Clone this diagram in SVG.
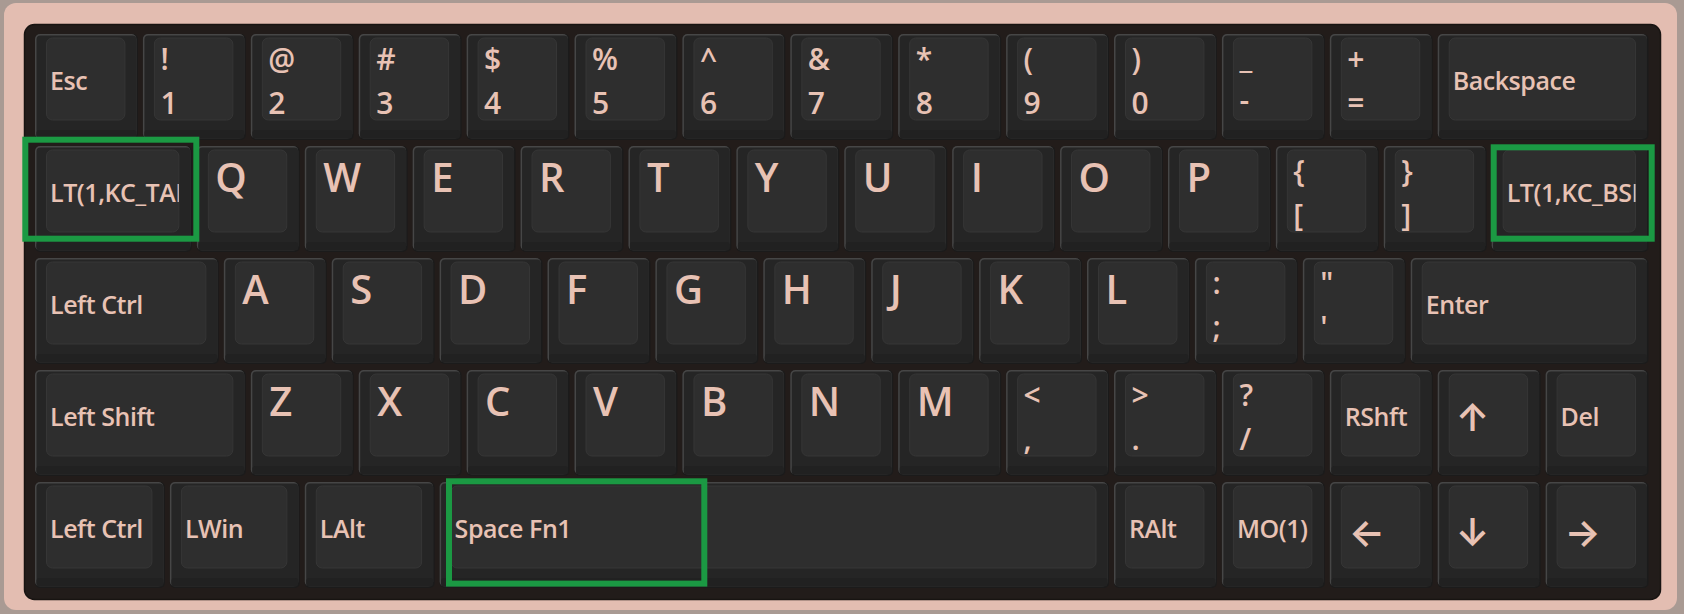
<svg xmlns="http://www.w3.org/2000/svg" xmlns:xlink="http://www.w3.org/1999/xlink" width="1684" height="614" viewBox="0 0 1684 614">
<style>
.ko{fill:#1b1b1b}
.kh{fill:#464646}
.kb{fill:#252525}
.kl{fill:#212121}
.kt{fill:#2e2e2e;stroke:#363636;stroke-width:1}
text{fill:#e8c2b4;font-family:"Open Sans","Noto Sans",sans-serif;font-weight:600}
.lm{font-size:25px;letter-spacing:-0.45px}
.l2{font-size:30px}
.lb{font-size:40px}
.ar{font-family:Inter,Lato,"DejaVu Sans",sans-serif;font-size:38px;font-weight:600;dominant-baseline:central}
.hl{fill:none;stroke:#1b9943;stroke-width:6}
</style>
<defs>
<g id="c100"><rect class="ko" width="102.9" height="106" rx="5"/><rect class="kh" width="101.4" height="104.5" rx="5"/><rect class="kb" x="1.5" y="1.5" width="99.9" height="103" rx="4"/><rect class="kl" x="1.5" y="96" width="99.9" height="8.5" rx="3"/><rect class="kt" x="11.5" y="4" width="78.4" height="82" rx="6"/></g>
<g id="c125"><rect class="ko" width="129.9" height="106" rx="5"/><rect class="kh" width="128.4" height="104.5" rx="5"/><rect class="kb" x="1.5" y="1.5" width="126.9" height="103" rx="4"/><rect class="kl" x="1.5" y="96" width="126.9" height="8.5" rx="3"/><rect class="kt" x="11.5" y="4" width="105.4" height="82" rx="6"/></g>
<g id="c150"><rect class="ko" width="156.85" height="106" rx="5"/><rect class="kh" width="155.35" height="104.5" rx="5"/><rect class="kb" x="1.5" y="1.5" width="153.85" height="103" rx="4"/><rect class="kl" x="1.5" y="96" width="153.85" height="8.5" rx="3"/><rect class="kt" x="11.5" y="4" width="132.35" height="82" rx="6"/></g>
<g id="c175"><rect class="ko" width="183.8" height="106" rx="5"/><rect class="kh" width="182.3" height="104.5" rx="5"/><rect class="kb" x="1.5" y="1.5" width="180.8" height="103" rx="4"/><rect class="kl" x="1.5" y="96" width="180.8" height="8.5" rx="3"/><rect class="kt" x="11.5" y="4" width="159.3" height="82" rx="6"/></g>
<g id="c200"><rect class="ko" width="210.8" height="106" rx="5"/><rect class="kh" width="209.3" height="104.5" rx="5"/><rect class="kb" x="1.5" y="1.5" width="207.8" height="103" rx="4"/><rect class="kl" x="1.5" y="96" width="207.8" height="8.5" rx="3"/><rect class="kt" x="11.5" y="4" width="186.3" height="82" rx="6"/></g>
<g id="c225"><rect class="ko" width="237.8" height="106" rx="5"/><rect class="kh" width="236.3" height="104.5" rx="5"/><rect class="kb" x="1.5" y="1.5" width="234.8" height="103" rx="4"/><rect class="kl" x="1.5" y="96" width="234.8" height="8.5" rx="3"/><rect class="kt" x="11.5" y="4" width="213.3" height="82" rx="6"/></g>
<g id="c625"><rect class="ko" width="669.4" height="106" rx="5"/><rect class="kh" width="667.9" height="104.5" rx="5"/><rect class="kb" x="1.5" y="1.5" width="666.4" height="103" rx="4"/><rect class="kl" x="1.5" y="96" width="666.4" height="8.5" rx="3"/><rect class="kt" x="11.5" y="4" width="644.9" height="82" rx="6"/></g>
<clipPath id="clip150"><rect x="11.5" y="4" width="132.35" height="82" rx="6"/></clipPath>
</defs>
<g id="case">
<rect width="1684" height="614" fill="#a99a93"/>
<rect x="4" y="3" width="1673" height="607" rx="12" fill="#e3bdb1"/>
<rect x="24.5" y="24.5" width="1636" height="575" rx="10" fill="#221c1a" stroke="#181412" stroke-width="1.5"/>
</g>
<g id="row0">
<g id="k-esc" transform="translate(35,34)"><use href="#c100"/><text class="lm" x="15" y="56">Esc</text></g>
<g id="k-1" transform="translate(142.9,34)"><use href="#c100"/><text class="l2" x="17.5" y="36">!</text><text class="l2" x="17.5" y="80">1</text></g>
<g id="k-2" transform="translate(250.8,34)"><use href="#c100"/><text class="l2" x="17.5" y="36">@</text><text class="l2" x="17.5" y="80">2</text></g>
<g id="k-3" transform="translate(358.7,34)"><use href="#c100"/><text class="l2" x="17.5" y="36">#</text><text class="l2" x="17.5" y="80">3</text></g>
<g id="k-4" transform="translate(466.6,34)"><use href="#c100"/><text class="l2" x="17.5" y="36">$</text><text class="l2" x="17.5" y="80">4</text></g>
<g id="k-5" transform="translate(574.5,34)"><use href="#c100"/><text class="l2" x="17.5" y="36">%</text><text class="l2" x="17.5" y="80">5</text></g>
<g id="k-6" transform="translate(682.4,34)"><use href="#c100"/><text class="l2" x="17.5" y="36">^</text><text class="l2" x="17.5" y="80">6</text></g>
<g id="k-7" transform="translate(790.3,34)"><use href="#c100"/><text class="l2" x="17.5" y="36">&amp;</text><text class="l2" x="17.5" y="80">7</text></g>
<g id="k-8" transform="translate(898.2,34)"><use href="#c100"/><text class="l2" x="17.5" y="36">*</text><text class="l2" x="17.5" y="80">8</text></g>
<g id="k-9" transform="translate(1006.1,34)"><use href="#c100"/><text class="l2" x="17.5" y="36">(</text><text class="l2" x="17.5" y="80">9</text></g>
<g id="k-0" transform="translate(1114,34)"><use href="#c100"/><text class="l2" x="17.5" y="36">)</text><text class="l2" x="17.5" y="80">0</text></g>
<g id="k-minus" transform="translate(1221.9,34)"><use href="#c100"/><text class="l2" x="17.5" y="34">_</text><text class="l2" x="17.5" y="77">-</text></g>
<g id="k-equal" transform="translate(1329.8,34)"><use href="#c100"/><text class="l2" x="17.5" y="36">+</text><text class="l2" x="17.5" y="80">=</text></g>
<g id="k-bspace" transform="translate(1437.7,34)"><use href="#c200"/><text class="lm" x="15" y="56">Backspace</text></g>
</g>
<g id="row1">
<g id="k-tab" transform="translate(35,146)"><use href="#c150"/><text class="lm" x="15" y="56" clip-path="url(#clip150)">LT(1,KC_TAB)</text></g>
<g id="k-q" transform="translate(196.85,146)"><use href="#c100"/><text class="lb" x="18.5" y="46">Q</text></g>
<g id="k-w" transform="translate(304.75,146)"><use href="#c100"/><text class="lb" x="18.5" y="46">W</text></g>
<g id="k-e" transform="translate(412.65,146)"><use href="#c100"/><text class="lb" x="18.5" y="46">E</text></g>
<g id="k-r" transform="translate(520.55,146)"><use href="#c100"/><text class="lb" x="18.5" y="46">R</text></g>
<g id="k-t" transform="translate(628.45,146)"><use href="#c100"/><text class="lb" x="18.5" y="46">T</text></g>
<g id="k-y" transform="translate(736.35,146)"><use href="#c100"/><text class="lb" x="18.5" y="46">Y</text></g>
<g id="k-u" transform="translate(844.25,146)"><use href="#c100"/><text class="lb" x="18.5" y="46">U</text></g>
<g id="k-i" transform="translate(952.15,146)"><use href="#c100"/><text class="lb" x="18.5" y="46">I</text></g>
<g id="k-o" transform="translate(1060.05,146)"><use href="#c100"/><text class="lb" x="18.5" y="46">O</text></g>
<g id="k-p" transform="translate(1167.95,146)"><use href="#c100"/><text class="lb" x="18.5" y="46">P</text></g>
<g id="k-lbrc" transform="translate(1275.85,146)"><use href="#c100"/><text class="l2" x="17.5" y="36">{</text><text class="l2" x="17.5" y="80">[</text></g>
<g id="k-rbrc" transform="translate(1383.75,146)"><use href="#c100"/><text class="l2" x="17.5" y="36">}</text><text class="l2" x="17.5" y="80">]</text></g>
<g id="k-bsl" transform="translate(1491.65,146)"><use href="#c150"/><text class="lm" x="15" y="56" clip-path="url(#clip150)">LT(1,KC_BSPC)</text></g>
</g>
<g id="row2">
<g id="k-lctrl" transform="translate(35,258)"><use href="#c175"/><text class="lm" x="15" y="56">Left Ctrl</text></g>
<g id="k-a" transform="translate(223.8,258)"><use href="#c100"/><text class="lb" x="18.5" y="46">A</text></g>
<g id="k-s" transform="translate(331.7,258)"><use href="#c100"/><text class="lb" x="18.5" y="46">S</text></g>
<g id="k-d" transform="translate(439.6,258)"><use href="#c100"/><text class="lb" x="18.5" y="46">D</text></g>
<g id="k-f" transform="translate(547.5,258)"><use href="#c100"/><text class="lb" x="18.5" y="46">F</text></g>
<g id="k-g" transform="translate(655.4,258)"><use href="#c100"/><text class="lb" x="18.5" y="46">G</text></g>
<g id="k-h" transform="translate(763.3,258)"><use href="#c100"/><text class="lb" x="18.5" y="46">H</text></g>
<g id="k-j" transform="translate(871.2,258)"><use href="#c100"/><text class="lb" x="18.5" y="46">J</text></g>
<g id="k-k" transform="translate(979.1,258)"><use href="#c100"/><text class="lb" x="18.5" y="46">K</text></g>
<g id="k-l" transform="translate(1087,258)"><use href="#c100"/><text class="lb" x="18.5" y="46">L</text></g>
<g id="k-scln" transform="translate(1194.9,258)"><use href="#c100"/><text class="l2" x="17.5" y="36">:</text><text class="l2" x="17.5" y="80">;</text></g>
<g id="k-quot" transform="translate(1302.8,258)"><use href="#c100"/><text class="l2" x="17.5" y="36">"</text><text class="l2" x="17.5" y="80">'</text></g>
<g id="k-enter" transform="translate(1410.7,258)"><use href="#c225"/><text class="lm" x="15" y="56">Enter</text></g>
</g>
<g id="row3">
<g id="k-lshift" transform="translate(35,370)"><use href="#c200"/><text class="lm" x="15" y="56">Left Shift</text></g>
<g id="k-z" transform="translate(250.8,370)"><use href="#c100"/><text class="lb" x="18.5" y="46">Z</text></g>
<g id="k-x" transform="translate(358.7,370)"><use href="#c100"/><text class="lb" x="18.5" y="46">X</text></g>
<g id="k-c" transform="translate(466.6,370)"><use href="#c100"/><text class="lb" x="18.5" y="46">C</text></g>
<g id="k-v" transform="translate(574.5,370)"><use href="#c100"/><text class="lb" x="18.5" y="46">V</text></g>
<g id="k-b" transform="translate(682.4,370)"><use href="#c100"/><text class="lb" x="18.5" y="46">B</text></g>
<g id="k-n" transform="translate(790.3,370)"><use href="#c100"/><text class="lb" x="18.5" y="46">N</text></g>
<g id="k-m" transform="translate(898.2,370)"><use href="#c100"/><text class="lb" x="18.5" y="46">M</text></g>
<g id="k-comm" transform="translate(1006.1,370)"><use href="#c100"/><text class="l2" x="17.5" y="36">&lt;</text><text class="l2" x="17.5" y="80">,</text></g>
<g id="k-dot" transform="translate(1114,370)"><use href="#c100"/><text class="l2" x="17.5" y="36">&gt;</text><text class="l2" x="17.5" y="80">.</text></g>
<g id="k-slsh" transform="translate(1221.9,370)"><use href="#c100"/><text class="l2" x="17.5" y="36">?</text><text class="l2" x="17.5" y="80">/</text></g>
<g id="k-rshift" transform="translate(1329.8,370)"><use href="#c100"/><text class="lm" x="15" y="56">RShft</text></g>
<g id="k-up" transform="translate(1437.7,370)"><use href="#c100"/><text class="ar" x="18" y="47">↑</text></g>
<g id="k-del" transform="translate(1545.6,370)"><use href="#c100"/><text class="lm" x="15" y="56">Del</text></g>
</g>
<g id="row4">
<g id="k-lctrl2" transform="translate(35,482)"><use href="#c125"/><text class="lm" x="15" y="56">Left Ctrl</text></g>
<g id="k-lwin" transform="translate(169.9,482)"><use href="#c125"/><text class="lm" x="15" y="56">LWin</text></g>
<g id="k-lalt" transform="translate(304.75,482)"><use href="#c125"/><text class="lm" x="15" y="56">LAlt</text></g>
<g id="k-space" transform="translate(439.6,482)"><use href="#c625"/><text class="lm" x="15" y="56">Space Fn1</text></g>
<g id="k-ralt" transform="translate(1114,482)"><use href="#c100"/><text class="lm" x="15" y="56">RAlt</text></g>
<g id="k-mo1" transform="translate(1221.9,482)"><use href="#c100"/><text class="lm" x="15" y="56">MO(1)</text></g>
<g id="k-left" transform="translate(1329.8,482)"><use href="#c100"/><text class="ar" x="19" y="50">←</text></g>
<g id="k-down" transform="translate(1437.7,482)"><use href="#c100"/><text class="ar" x="18" y="50">↓</text></g>
<g id="k-right" transform="translate(1545.6,482)"><use href="#c100"/><text class="ar" x="19" y="50">→</text></g>
</g>
<g id="highlights">
<rect class="hl" x="25.3" y="139.7" width="171" height="99"/>
<rect class="hl" x="1493.7" y="147.3" width="158" height="91.4"/>
<rect class="hl" x="449" y="481.3" width="255.3" height="102.3"/>
</g>
</svg>
